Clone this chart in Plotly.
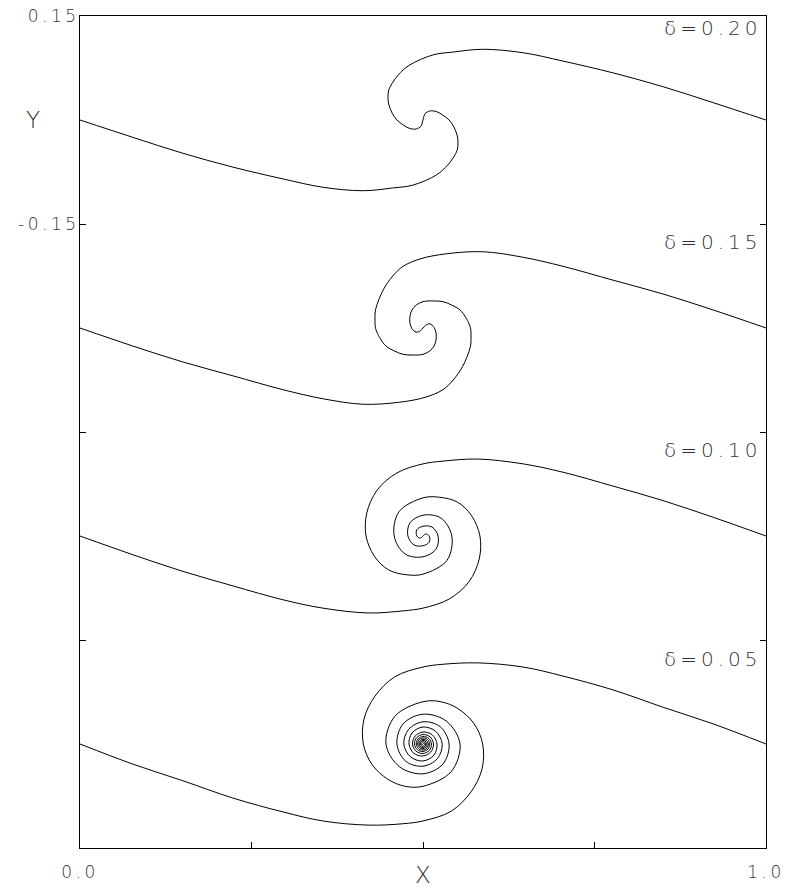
import plotly.graph_objects as go

# Regularisation parameter of each computed sheet, top to bottom
deltas = ["0.20", "0.15", "0.10", "0.05"]

# Sheet positions (x, y) at the final time, one list pair per delta
x_d20 = [0.000, 0.077, 0.150, 0.223, 0.296, 0.354, 0.413, 0.456, 0.485, 0.520, 0.536, 0.545,
         0.550, 0.551, 0.550, 0.545, 0.538, 0.529, 0.520, 0.510, 0.503, 0.500,
         0.497, 0.490, 0.480, 0.471, 0.462, 0.455, 0.450, 0.449, 0.450, 0.455, 0.464, 0.480,
         0.515, 0.544, 0.587, 0.646, 0.704, 0.777, 0.850, 0.923, 1.000]
y_d20 = [0, -0.025, -0.048, -0.068, -0.085, -0.097, -0.102, -0.098, -0.094, -0.079, -0.065, -0.053,
         -0.043, -0.033, -0.023, -0.010, 0, 0.007, 0.012, 0.013, 0.009, 0,
         -0.009, -0.013, -0.012, -0.007, 0, 0.010, 0.023, 0.033, 0.043, 0.053, 0.065, 0.079,
         0.094, 0.098, 0.102, 0.097, 0.085, 0.068, 0.048, 0.025, 0]

x_d15 = [0.000, 0.077, 0.150, 0.223, 0.296, 0.354, 0.413, 0.466, 0.503, 0.529, 0.544, 0.558,
         0.569, 0.570, 0.569, 0.563, 0.554, 0.542, 0.529, 0.515, 0.500, 0.490, 0.484, 0.481,
         0.481, 0.484, 0.490, 0.496, 0.500,
         0.504, 0.510, 0.516, 0.519, 0.519, 0.516, 0.510, 0.500, 0.485, 0.471, 0.458, 0.446,
         0.437, 0.431, 0.430, 0.431, 0.442, 0.456, 0.471, 0.497, 0.534, 0.587, 0.646, 0.704,
         0.777, 0.850, 0.923, 1.000]
y_d15 = [0, -0.026, -0.049, -0.069, -0.089, -0.102, -0.110, -0.107, -0.100, -0.089, -0.075, -0.055,
         -0.027, -0.013, 0.001, 0.014, 0.026, 0.033, 0.038, 0.039, 0.038, 0.033, 0.026, 0.017,
         0.007, -0.001, -0.006, -0.004, 0,
         0.004, 0.006, 0.001, -0.007, -0.017, -0.026, -0.033, -0.038, -0.039, -0.038, -0.033, -0.026,
         -0.014, -0.001, 0.013, 0.027, 0.055, 0.075, 0.089, 0.100, 0.107, 0.110, 0.102, 0.089,
         0.069, 0.049, 0.026, 0]

x_d10 = [0.000, 0.077, 0.150, 0.223, 0.296, 0.354, 0.420, 0.471, 0.500, 0.538, 0.567, 0.582,
         0.583, 0.571, 0.550, 0.523, 0.500, 0.465, 0.458, 0.474, 0.500, 0.519, 0.522, 0.513,
         0.500, 0.491, 0.491, 0.496, 0.500,
         0.504, 0.509, 0.509, 0.500, 0.487, 0.478, 0.481, 0.500, 0.526, 0.542, 0.535, 0.500,
         0.477, 0.450, 0.429, 0.417, 0.418, 0.433, 0.462, 0.500, 0.529, 0.580, 0.646, 0.704,
         0.777, 0.850, 0.923, 1.000]
y_d10 = [0, -0.027, -0.051, -0.072, -0.092, -0.104, -0.111, -0.108, -0.104, -0.091, -0.066, -0.033,
         0, 0.029, 0.049, 0.056, 0.055, 0.035, 0, -0.026, -0.030, -0.019, 0, 0.013,
         0.014, 0.009, 0, -0.003, 0,
         0.003, 0, -0.009, -0.014, -0.013, 0, 0.019, 0.030, 0.026, 0, -0.035, -0.055,
         -0.056, -0.049, -0.029, 0, 0.033, 0.066, 0.091, 0.104, 0.108, 0.111, 0.104, 0.092,
         0.072, 0.051, 0.027, 0]

x_d05 = [0.000, 0.077, 0.150, 0.223, 0.296, 0.354, 0.420, 0.471, 0.500, 0.541, 0.570,
         0.586, 0.587, 0.574, 0.551, 0.526, 0.500, 0.459, 0.446, 0.466, 0.500, 0.529, 0.538,
         0.525, 0.500, 0.479, 0.472, 0.4815, 0.500, 0.516, 0.5204, 0.5134, 0.500, 0.4885, 0.4847,
         0.4896, 0.500, 0.5093, 0.5124, 0.5083, 0.500, 0.4927, 0.4902, 0.4934, 0.500, 0.5058, 0.5077,
         0.5051, 0.500, 0.4956, 0.4942, 0.4962, 0.500, 0.5032, 0.5041, 0.5026, 0.500, 0.4981, 0.4975,
         0.4988, 0.500,
         0.5012, 0.5025, 0.5019, 0.500, 0.4974, 0.4959, 0.4968, 0.500, 0.5038, 0.5058, 0.5044, 0.500,
         0.4949, 0.4923, 0.4942, 0.500, 0.5066, 0.5098, 0.5073, 0.500, 0.4917, 0.4876, 0.4907, 0.500,
         0.5104, 0.5153, 0.5115, 0.500, 0.4866, 0.4796, 0.484, 0.500, 0.5185, 0.528, 0.521, 0.500,
         0.475, 0.462, 0.471, 0.500, 0.534, 0.554, 0.541, 0.500, 0.474, 0.449, 0.426, 0.413,
         0.414, 0.430, 0.459, 0.500, 0.529, 0.580, 0.646, 0.704, 0.777, 0.850, 0.923, 1.000]
y_d05 = [0, -0.029, -0.053, -0.078, -0.098, -0.111, -0.117, -0.115, -0.111, -0.097, -0.069,
         -0.036, 0, 0.030, 0.051, 0.061, 0.061, 0.040, 0, -0.033, -0.043, -0.029, 0,
         0.025, 0.032, 0.021, 0, -0.0183, -0.0245, -0.0159, 0, 0.0133, 0.0173, 0.0114, 0,
         -0.0102, -0.0137, -0.0092, 0, 0.0082, 0.0108, 0.0072, 0, -0.0065, -0.0087, -0.0058, 0,
         0.0051, 0.0066, 0.0043, 0, -0.0038, -0.0049, -0.0032, 0, 0.0026, 0.0032, 0.0019, 0,
         -0.0009, 0,
         0.0009, 0, -0.0019, -0.0032, -0.0026, 0, 0.0032, 0.0049, 0.0038, 0,
         -0.0043, -0.0066, -0.0051, 0, 0.0058, 0.0087, 0.0065, 0, -0.0072, -0.0108, -0.0082, 0,
         0.0092, 0.0137, 0.0102, 0, -0.0114, -0.0173, -0.0133, 0, 0.0159, 0.0245, 0.0183, 0,
         -0.021, -0.032, -0.025, 0, 0.029, 0.043, 0.033, 0, -0.040, -0.061, -0.061, -0.051,
         -0.030, 0, 0.036, 0.069, 0.097, 0.111, 0.115, 0.117, 0.111, 0.098, 0.078, 0.053,
         0.029, 0]

sheets_x = [x_d20, x_d15, x_d10, x_d05]
sheets_y = [y_d20, y_d15, y_d10, y_d05]

# Each sheet is drawn shifted down so the four runs stack in one frame
stack_shift = [0.0, -0.3, -0.6, -0.9]
label_y = [0.133, -0.176, -0.476, -0.777]

x_ticks = [0.0, 0.25, 0.5, 0.75, 1.0]
x_ticktext = ["0.0", "", "", "", "1.0"]
y_ticks = [0.15, -0.15, -0.45, -0.75, -1.05]
y_ticktext = ["0.15", "-0.15", "", "", ""]

FONT = "DejaVu Sans"
INK = "#333333"


def spaced(s, gap):
    return f'<span style="letter-spacing:{gap}px">{s}</span>' if s else ""


fig = go.Figure()
for xs, ys, shift in zip(sheets_x, sheets_y, stack_shift):
    fig.add_trace(go.Scatter(
        x=xs, y=[v + shift for v in ys], mode="lines",
        line=dict(color="black", width=1, shape="spline", smoothing=1.0),
        hoverinfo="skip", showlegend=False,
    ))

annotations = []
for d, ly in zip(deltas, label_y):
    annotations.append(dict(
        x=0.997, y=ly, xref="x", yref="y", xanchor="right", yanchor="middle",
        text=spaced(f"δ={d}", 4), showarrow=False,
        font=dict(family=FONT, size=20, color=INK, weight=200),
    ))
annotations.append(dict(
    x=-0.068, y=0.0, xref="paper", yref="y", xanchor="center", yanchor="middle",
    text="Y", showarrow=False, font=dict(family=FONT, size=23, color=INK, weight=200),
))
annotations.append(dict(
    x=0.5, y=-0.033, xref="x", yref="paper", xanchor="center", yanchor="middle",
    text="X", showarrow=False, font=dict(family=FONT, size=23, color=INK, weight=200),
))

tick_font = dict(family=FONT, size=17, color=INK, weight=200)

fig.update_layout(
    width=791, height=887,
    margin=dict(l=80, r=25, t=16, b=39, autoexpand=False),
    paper_bgcolor="white", plot_bgcolor="white",
    annotations=annotations,
    xaxis=dict(
        range=[0, 1], tickvals=x_ticks, ticktext=[spaced(t, 3.5) for t in x_ticktext],
        ticks="inside", ticklen=6, tickcolor="black", tickwidth=1,
        showline=True, linecolor="black", linewidth=1, mirror=True,
        showgrid=False, zeroline=False, ticklabelstandoff=9, automargin=False,
        tickfont=tick_font,
    ),
    yaxis=dict(
        range=[-1.05, 0.15], tickvals=y_ticks, ticktext=[spaced(t, 3.5) for t in y_ticktext],
        ticks="inside", ticklen=6, tickcolor="black", tickwidth=1,
        showline=True, linecolor="black", linewidth=1, mirror="ticks",
        showgrid=False, zeroline=False, ticklabelstandoff=-4, automargin=False,
        tickfont=tick_font,
    ),
)

fig.write_html("out.html")
